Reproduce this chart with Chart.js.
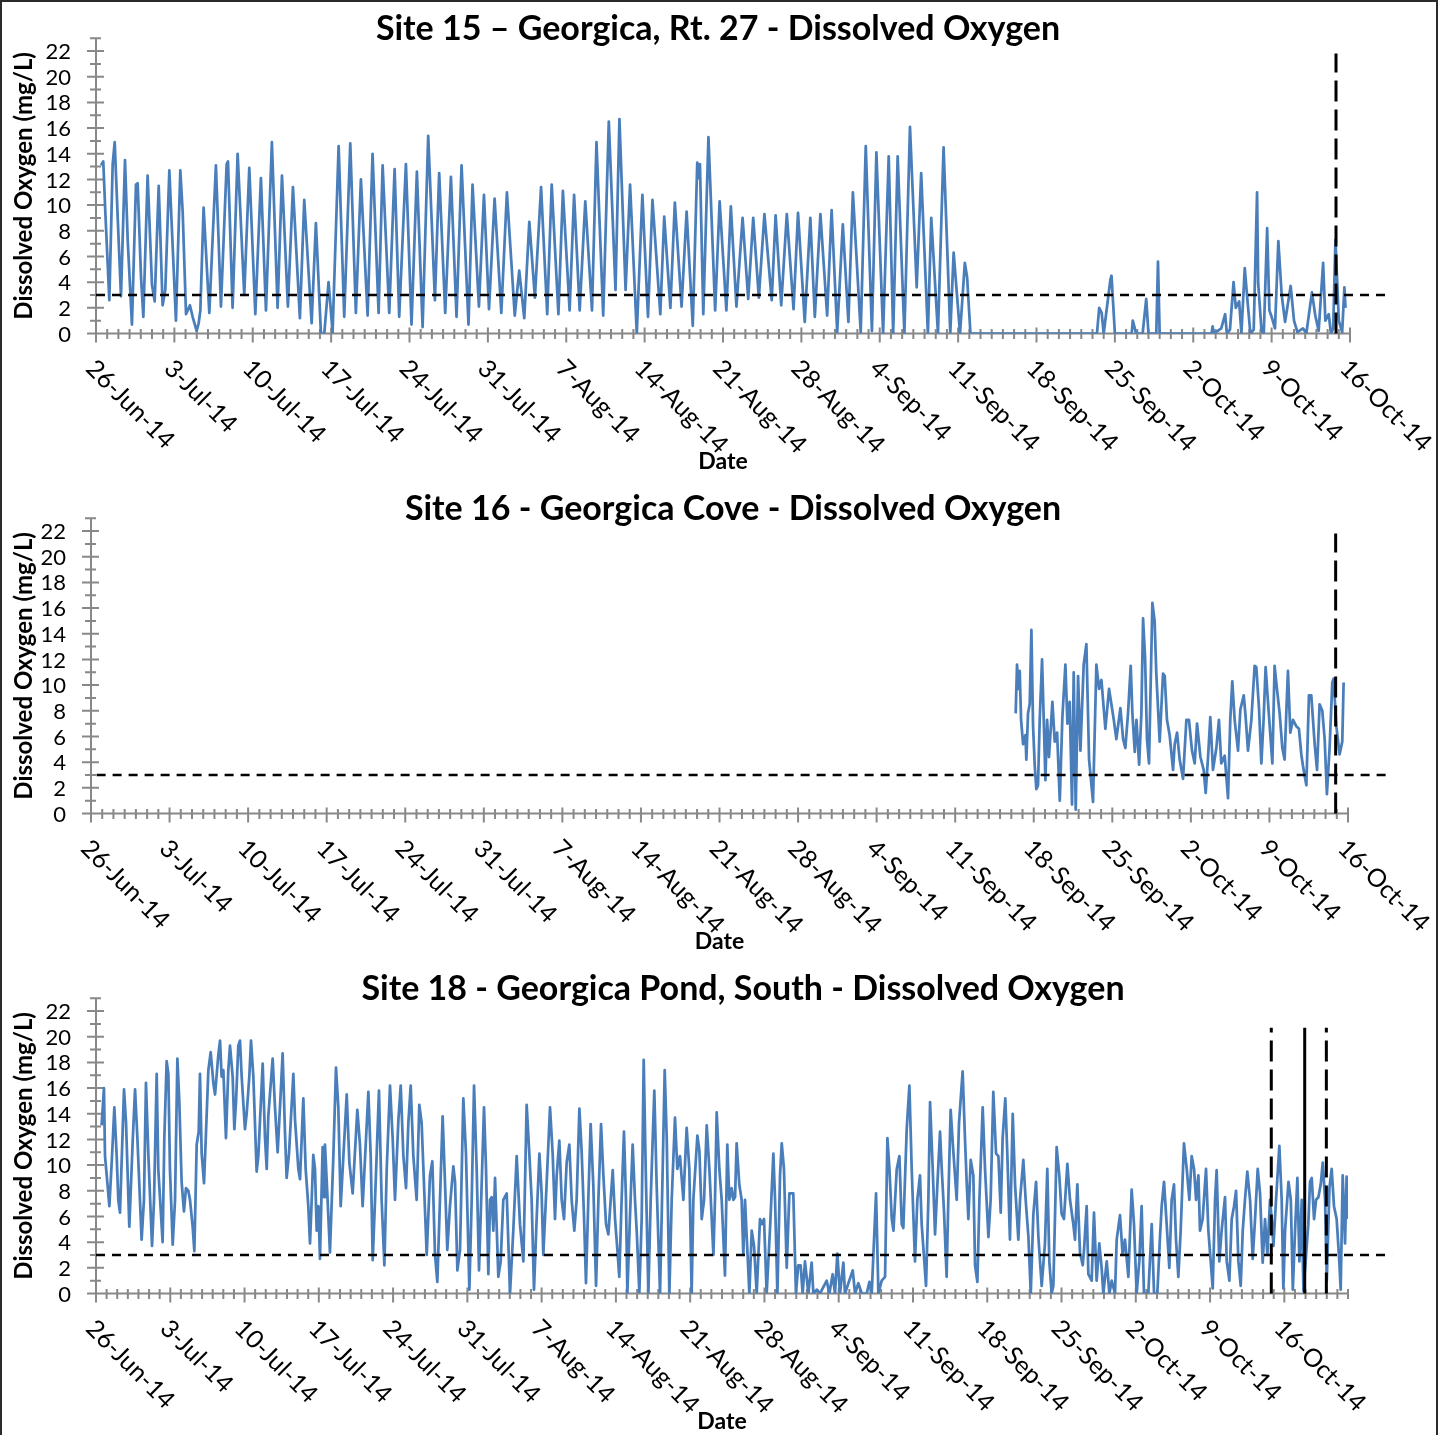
<!DOCTYPE html>
<html>
<head>
<meta charset="utf-8">
<title>Georgica Dissolved Oxygen</title>
<script src="https://cdn.jsdelivr.net/npm/chart.js@4.4.1/dist/chart.umd.min.js"></script>
<style>
html,body{margin:0;padding:0;background:#fff;}
#page{position:relative;width:1440px;height:1435px;overflow:hidden;background:#fff;}
#page canvas{position:absolute;left:0;}
#frame{position:absolute;left:0;top:0;width:1438px;height:1460px;box-sizing:border-box;border:2px solid #2b2b2b;border-bottom:none;pointer-events:none;}
</style>
</head>
<body>
<div id="page">
<canvas id="c15" width="1440" height="480" style="top:0px"></canvas>
<canvas id="c16" width="1440" height="480" style="top:480px"></canvas>
<canvas id="c18" width="1440" height="480" style="top:960px"></canvas>
<div id="frame"></div>
</div>
<script>
// ---------------- DATA ----------------
const xTickLabels = ['26-Jun-14','3-Jul-14','10-Jul-14','17-Jul-14','24-Jul-14','31-Jul-14','7-Aug-14','14-Aug-14','21-Aug-14','28-Aug-14','4-Sep-14','11-Sep-14','18-Sep-14','25-Sep-14','2-Oct-14','9-Oct-14','16-Oct-14'];
const panelTitles = ['Site 15 \u2013 Georgica, Rt. 27 - Dissolved Oxygen','Site 16 - Georgica Cove - Dissolved Oxygen','Site 18 - Georgica Pond, South - Dissolved Oxygen'];
const yAxisTitle = 'Dissolved Oxygen (mg/L)';
const xAxisTitle = 'Date';

// days since 26-Jun-14 00:00
const site15Day = [0.45,0.65,0.83,1.19,1.49,1.67,1.93,2.23,2.59,2.83,3.21,3.57,3.72,4.02,4.23,4.61,5.0,5.24,5.6,5.95,6.19,6.55,7.14,7.53,7.74,8.04,8.39,8.63,8.99,9.17,9.32,9.61,10.12,10.71,11.16,11.67,11.79,12.2,12.65,13.24,13.69,14.23,14.73,15.18,15.71,16.22,16.61,17.14,17.59,18.21,18.6,19.26,19.64,20.09,20.39,20.77,21.13,21.67,22.17,22.71,23.21,23.66,24.26,24.7,25.24,25.6,26.19,26.67,27.08,27.68,28.18,28.66,29.17,29.67,30.27,30.65,31.19,31.7,32.2,32.65,33.27,33.63,34.2,
34.65,35.1,35.6,36.2,36.7,37.4,37.8,38.25,38.7,39.2,39.75,40.3,40.7,41.3,41.7,42.3,42.7,43.2,43.7,44.3,44.7,45.3,45.8,46.4,46.75,47.3,47.7,48.3,48.8,49.3,49.7,50.4,50.75,51.3,51.7,52.3,52.75,53.3,53.7,53.82,53.94,54.24,54.7,55.3,55.7,56.3,56.7,57.2,57.75,58.25,58.7,59.2,59.7,60.35,60.7,61.2,61.7,62.3,62.7,63.3,63.8,64.2,64.7,65.3,65.7,66.2,66.7,67.2,67.6,68.3,68.75,69.3,69.7,70.3,70.8,71.2,71.6,72.2,72.7,73.3,73.7,74.3,74.6,75.2,75.7,76.3,76.6,
77.17,77.6,77.8,78.1,89.4,89.6,89.82,90.0,90.6,90.7,91.0,92.5,92.6,92.9,93.48,93.8,94.0,94.7,94.85,95.0,99.64,99.73,99.85,100.5,100.85,101.0,101.28,101.6,101.8,102.1,102.3,102.6,102.8,103.1,103.4,103.7,103.8,104.1,104.3,104.6,104.8,105.0,105.3,105.6,105.9,106.2,106.7,107.0,107.3,107.8,108.1,108.6,108.9,109.2,109.6,109.8,110.1,110.3,110.5,110.7,111.0,111.3,111.5,111.6];
const site15DO = [13.1,13.4,9.5,2.6,13.2,14.9,9.2,2.9,13.5,7.3,0.7,11.6,11.7,4.4,1.3,12.3,3.8,2.5,11.5,2.2,3.4,12.7,1.0,12.7,9.5,1.5,2.2,1.3,0.2,0.8,1.8,9.8,1.6,13.1,2.1,13.2,13.4,2.0,14.0,3.0,12.9,1.5,12.1,1.8,14.9,2.0,12.3,2.1,11.4,1.2,10.4,0.8,8.6,0,0,4.0,0.1,14.6,1.3,14.8,1.6,12.0,1.4,14.0,1.6,13.1,1.6,12.8,1.3,13.2,0.7,12.6,0.5,15.4,2.6,12.5,1.6,12.2,1.3,13.1,0.7,11.6,2.1,
10.8,1.9,10.5,1.6,11.0,1.4,4.9,1.2,8.7,2.8,11.4,1.5,11.6,1.5,11.1,1.8,10.8,1.8,10.3,1.8,14.9,1.4,16.5,3.4,16.7,3.4,11.6,0,10.8,1.3,10.4,1.5,9.1,2.0,10.2,2.1,9.5,0.6,13.3,12.1,13.2,1.5,15.3,1.8,10.3,1.8,9.9,2.1,9.0,2.7,9.0,2.8,9.3,2.6,9.2,2.2,9.3,1.9,9.4,0.9,9.0,1.3,9.3,1.4,9.6,0.1,8.5,0.9,11.0,0.1,14.6,0.2,14.1,0,13.8,0,13.8,0,16.1,3.6,12.5,0,9.0,0,14.5,0.05,6.3,
0,5.5,4.4,0,0,2.0,1.6,0,4.2,4.5,0,0,1.0,0,0,2.7,0,0,5.6,0,0,0.55,0,0.4,1.5,0,0.3,4.0,2.0,2.5,0,5.1,3.0,0,0.3,11.0,3.9,0.2,0,8.2,1.8,1.3,0.4,7.2,3.0,0.9,3.7,1.0,0.1,0.4,0,3.2,1.4,0.2,5.5,1.0,1.5,0,0.4,7.3,1.0,0.1,3.6,2.0];

const site16Day = [82.39,82.51,82.63,82.75,82.87,83.05,83.26,83.34,83.49,83.64,83.79,83.94,84.09,84.23,84.38,84.53,84.74,84.89,85.04,85.19,85.36,85.66,85.87,86.08,86.32,86.55,86.82,87.0,87.2,87.41,87.56,87.74,87.95,88.16,88.45,88.69,88.93,89.28,89.58,89.82,90.03,90.38,90.71,91.13,91.36,91.72,91.96,92.16,92.4,92.64,92.79,93.0,93.15,93.39,93.59,93.74,93.92,94.09,94.27,94.57,94.77,94.92,95.22,95.52,95.67,95.87,96.11,96.41,96.56,96.77,97.0,97.3,97.6,97.83,98.1,98.34,98.55,98.85,99.14,99.32,99.53,99.73,99.97,100.27,100.5,100.71,101.01,101.31,101.51,101.69,101.9,102.2,102.41,102.71,102.88,103.09,103.39,103.68,103.83,104.07,104.28,104.48,104.66,104.87,105.26,105.46,105.67,105.91,106.15,106.35,106.5,106.65,106.86,107.1,107.39,107.63,107.84,107.99,108.29,108.52,108.73,109.03,109.24,109.47,109.71,109.92,110.12,110.36,110.6,110.72,110.96,111.25,111.49,111.61];
const site16DO = [7.8,11.6,9.7,11.1,7.3,5.4,6.1,4.2,7.8,8.5,14.3,6.8,3.7,1.9,2.2,7.3,12.0,7.3,2.6,7.3,4.4,8.7,5.6,6.3,1.0,7.5,11.6,7.0,8.7,0.7,11.0,0.3,10.7,4.9,11.6,13.2,4.2,0.9,11.6,9.7,10.4,6.6,9.7,7.3,5.8,8.2,5.8,5.1,7.8,11.5,7.8,4.8,7.3,3.8,7.8,15.2,12.1,5.8,3.9,16.4,15.0,10.9,5.6,10.9,10.7,7.3,6.1,3.4,5.4,6.3,4.2,2.7,7.3,7.3,4.9,3.9,7.0,4.4,3.4,1.6,4.4,7.5,3.4,5.1,7.3,3.9,4.5,1.2,7.3,10.3,7.3,4.9,8.1,9.2,7.5,4.9,7.3,11.5,11.4,8.2,3.9,7.3,11.4,8.7,3.9,11.5,9.7,7.8,5.1,4.2,7.8,11.1,6.3,7.3,6.8,6.6,4.6,3.7,2.2,9.2,9.2,5.4,3.4,8.5,8.0,5.8,1.5,5.1,10.2,10.5,6.8,4.6,5.6,10.2];

const site18Day = [0.53,0.75,0.85,1.01,1.26,1.48,1.73,1.95,2.10,2.26,2.64,2.83,3.14,3.46,3.68,3.90,4.30,4.52,4.71,4.93,5.28,5.47,5.72,5.87,6.28,6.44,6.66,6.82,6.97,7.23,7.45,7.67,7.85,8.07,8.29,8.48,8.70,8.86,9.11,9.27,9.49,9.68,9.80,9.96,10.18,10.37,10.59,10.81,11.06,11.22,11.53,11.69,11.84,12.0,12.25,12.47,12.63,12.88,13.04,13.20,13.41,13.57,13.73,14.04,14.20,14.45,14.61,14.83,15.14,15.30,15.71,15.93,16.09,16.24,16.65,16.87,17.12,17.34,17.59,17.81,17.97,18.19,18.60,18.76,19.07,19.23,19.54,19.76,20.01,20.17,20.33,20.48,20.64,20.80,20.96,21.11,21.36,21.49,21.58,21.80,22.05,22.37,22.62,22.84,23.06,23.63,23.88,24.19,24.63,24.88,25.13,25.67,25.89,26.08,26.30,26.67,26.92,27.18,27.40,27.71,27.96,28.18,28.50,28.72,28.97,29.22,29.44,29.66,29.91,30.22,30.47,30.69,31.17,31.48,31.70,31.95,32.17,32.42,32.67,32.89,33.11,33.36,33.68,33.84,34.06,34.31,34.62,34.87,35.19,35.41,35.63,35.88,36.10,
36.57,36.76,36.98,37.14,37.29,37.45,37.61,37.92,38.14,38.39,38.71,39.02,39.33,39.65,39.96,40.28,40.59,40.84,41.06,41.28,41.53,41.79,42.0,42.16,42.48,42.79,43.04,43.26,43.42,43.67,43.89,44.11,44.36,44.61,44.83,45.08,45.30,45.56,45.77,45.99,46.18,46.40,46.62,46.87,47.13,47.35,47.60,47.82,48.07,48.29,48.70,48.92,49.14,49.32,49.54,49.76,49.95,50.08,50.33,50.58,50.80,50.96,51.21,51.43,51.62,51.81,52.06,52.28,52.62,52.84,53.16,53.41,53.60,53.79,54.04,54.26,54.57,54.79,55.04,55.36,55.67,55.92,56.14,56.30,56.68,56.87,57.09,57.31,57.56,57.81,58.19,58.34,58.50,58.75,58.97,59.28,59.50,59.69,59.91,60.07,60.23,60.38,60.63,60.85,61.01,61.17,61.33,61.58,61.80,62.02,62.27,62.58,62.74,62.96,63.21,63.53,63.84,64.0,64.22,64.47,64.63,64.84,65.10,65.35,65.72,65.97,66.19,66.41,66.60,66.82,67.14,67.45,67.61,67.93,68.24,68.87,69.12,69.43,69.65,69.87,70.12,70.44,70.59,71.32,71.54,71.85,72.17,72.64,72.89,73.11,73.52,73.74,74.05,74.37,74.59,74.78,75.0,75.16,75.47,75.72,75.94,76.09,76.41,76.66,76.88,77.19,77.41,77.66,77.82,78.23,78.45,78.61,78.86,79.08,79.30,79.55,79.71,79.93,80.17,80.33,80.55,80.80,81.12,81.34,
81.68,81.90,82.06,82.22,82.44,82.69,82.85,83.07,83.26,83.57,83.79,84.11,84.32,84.57,84.83,85.05,85.27,85.45,85.70,85.89,86.14,86.40,86.62,86.93,87.09,87.40,87.62,87.88,88.10,88.34,88.60,88.82,89.13,89.44,89.66,89.85,90.07,90.23,90.54,90.79,91.01,91.23,91.55,91.80,92.11,92.27,92.49,92.74,93.0,93.12,93.37,93.53,93.84,94.06,94.31,94.56,94.78,94.94,95.26,95.51,95.73,96.04,96.20,96.51,96.76,96.98,97.30,97.61,97.83,98.08,98.33,98.55,98.77,99.18,99.50,99.72,100.03,100.28,100.44,100.66,100.91,101.16,101.38,101.60,101.79,102.01,102.23,102.54,102.80,103.05,103.27,103.49,103.68,103.90,104.05,104.30,104.62,104.84,105.06,105.25,105.47,105.62,105.87,106.09,106.41,106.57,106.82,107.04,107.26,107.45,107.67,107.89,108.08,108.29,108.51,108.77,109.02,109.24,109.49,109.71,109.96,110.18,110.40,110.65,110.81,110.97,111.22,111.53,111.75,111.91,112.07,112.39,112.61,112.80,113.01,113.23,113.42,113.64,113.80,114.05,114.26,114.42,114.58,114.80,114.99,115.21,115.43,115.62,115.84,116.0,116.25,116.46,116.68,116.93,117.18,117.31,117.50,117.72,117.87,117.97];
const site18DO = [13.1,16.0,10.7,9.2,6.8,10.2,14.5,10.7,7.3,6.3,15.9,13.3,5.2,11.9,15.9,12.1,4.2,7.3,16.4,10.9,3.7,7.3,17.1,9.7,4.0,12.1,18.1,17.1,9.7,3.8,7.3,18.3,15.0,8.7,6.4,8.2,8.0,7.3,5.2,3.3,11.6,12.6,17.1,10.9,8.6,12.6,17.4,18.8,16.4,15.5,18.6,19.7,16.9,17.4,12.1,17.4,19.3,16.9,12.8,15.0,19.3,19.7,16.9,12.8,14.0,16.9,19.7,16.9,9.5,10.7,17.9,12.1,9.7,13.8,18.3,14.5,11.0,14.5,18.7,12.6,9.0,10.9,17.1,13.5,9.7,8.9,15.2,9.7,6.8,3.9,7.3,10.8,9.7,4.9,6.8,2.7,11.4,7.5,11.6,7.8,3.2,10.7,17.6,14.5,6.8,15.5,10.2,7.8,14.3,11.6,6.8,15.7,10.7,2.6,7.3,15.8,7.3,2.2,9.7,16.2,12.1,7.3,13.5,16.2,10.7,8.2,13.3,16.2,10.7,7.3,14.7,13.3,3.0,9.2,10.3,3.0,0.9,7.3,13.8,8.7,3.4,6.8,9.9,8.7,1.8,3.4,15.2,10.9,0.3,7.3,16.2,9.7,1.8,
14.5,9.7,1.5,7.3,7.5,4.9,9.0,1.3,2.5,7.3,7.8,0,4.9,10.7,5.4,2.5,14.7,10.9,7.3,0.3,5.8,10.9,7.8,3.0,8.7,14.5,10.9,5.8,9.2,11.9,7.3,5.8,10.2,11.6,7.3,4.9,7.3,14.4,11.1,6.1,0.8,7.3,13.2,8.5,0.6,7.3,13.2,9.2,5.4,4.6,9.6,5.8,3.4,1.3,7.3,12.6,7.3,0,6.1,11.6,7.3,4.9,0.1,5.8,18.2,9.7,0,7.3,15.8,8.5,0,9.7,17.4,12.1,0,7.3,13.7,9.7,10.7,7.3,12.9,9.7,0,7.3,12.3,11.1,5.8,7.3,13.1,9.7,3.0,7.3,14.1,9.7,7.3,1.4,11.6,7.3,8.2,7.3,7.5,11.7,8.5,7.3,3.0,7.3,4.4,0,4.9,3.7,0,5.8,5.4,5.8,0,5.1,10.9,7.3,0,9.2,11.7,9.7,2.0,7.8,7.8,0,2.2,2.2,0,2.5,0,2.4,0,0.3,0,1.0,0,1.5,0,3.1,0,2.4,0,1.8,0,0.8,0,0,0.9,0,7.8,0,1.0,1.3,12.1,9.7,5.8,4.9,9.7,10.7,5.4,5.1,12.8,16.2,9.7,2.5,7.3,9.2,5.4,0.6,7.3,14.9,9.7,4.6,8.5,12.6,9.7,6.3,1.3,7.3,14.3,11.1,7.3,13.3,
17.3,12.1,8.7,5.8,10.4,9.2,2.2,0.9,7.3,14.5,9.7,4.4,7.3,15.7,10.9,10.7,6.3,12.1,15.2,10.9,4.2,14.0,8.5,4.2,7.3,10.4,7.3,4.4,0,6.1,8.7,4.4,0.6,3.9,9.7,2.5,0,0.6,11.4,9.2,6.2,5.8,10.1,7.3,5.4,4.2,8.5,3.2,2.2,3.4,6.8,1.5,1.0,6.3,1.0,3.9,2.0,0,2.5,0,1.0,0,4.2,6.1,3.0,4.2,1.3,8.1,5.4,0,2.5,6.8,0,0,5.4,0,0,4.4,6.8,8.7,5.4,2.0,7.3,8.5,4.2,1.3,4.9,11.7,9.7,7.3,10.7,9.7,7.3,9.2,4.9,5.8,9.7,4.9,2.5,0.4,7.3,9.6,2.5,4.9,7.5,2.5,1.0,5.8,6.8,8.0,2.5,0.6,4.9,7.3,9.5,7.3,2.7,5.8,9.7,7.8,2.4,5.8,3.0,7.3,5.8,3.7,7.3,11.5,7.3,0.4,4.9,8.7,7.3,0.3,4.9,9.0,2.5,7.3,0.2,3.0,5.4,8.7,9.0,5.8,7.3,7.5,8.5,10.2,7.3,1.0,8.2,9.7,6.8,5.8,2.5,0.3,9.2,3.9,9.1,5.8];

// 3 mg/L dissolved oxygen standard (horizontal reference line)
const doStandard = 3;
const site15StandardDays = [0, 115.7];
const site16StandardDays = [0.5, 115.9];
const site18StandardDays = [0, 122.15];

// event markers (vertical lines)
const site15EventDays = [110.75];
const site15EventTop = 21.8;
const site16EventDays = [110.9];
const site16EventTop = 21.8;
const site18EventDays = [110.77, 113.92, 115.96];
const site18EventTop = 20.7;

// ---------------- DRAWING ----------------
const FONT = 'Lato';
const pts = (days, vals) => days.map((d, i) => ({x: d, y: vals[i]}));

const excelAxes = {
  id: 'excelAxes',
  beforeDatasetsDraw(chart) {
    const o = chart.options.plugins.excelAxes;
    const ctx = chart.ctx, xs = chart.scales.x, ys = chart.scales.y;
    const x0 = xs.getPixelForValue(0), x1 = xs.getPixelForValue(o.xMax);
    const y0 = ys.getPixelForValue(0), y1 = ys.getPixelForValue(23);
    ctx.save();
    ctx.strokeStyle = '#888888';
    ctx.lineWidth = 2;
    ctx.beginPath();
    ctx.moveTo(x0, y0); ctx.lineTo(x0, y1);
    for (let v = 0; v <= 23; v++) {
      const py = ys.getPixelForValue(v);
      const major = v % 2 === 0;
      ctx.moveTo(x0 - (major ? 9 : 6), py); ctx.lineTo(x0 + (major ? 8 : 5), py);
    }
    ctx.moveTo(x0, y0); ctx.lineTo(x1, y0);
    for (let d = 0; d <= o.xMax; d++) {
      const px = xs.getPixelForValue(d);
      const major = d % 7 === 0;
      ctx.moveTo(px, y0 - (major ? 6 : 4.5)); ctx.lineTo(px, y0 + (major ? 9 : 5.5));
    }
    ctx.stroke();
    ctx.restore();
  },
  afterDraw(chart) {
    const o = chart.options.plugins.excelAxes;
    const ctx = chart.ctx, xs = chart.scales.x, ys = chart.scales.y;
    const y0 = ys.getPixelForValue(0);
    ctx.save();
    ctx.fillStyle = '#000';
    ctx.font = '25px ' + FONT;
    ctx.textAlign = 'left';
    ctx.textBaseline = 'top';
    xTickLabels.forEach((lab, i) => {
      const px = xs.getPixelForValue(i * 7);
      ctx.save();
      ctx.translate(px + 3, y0 + 22);
      ctx.rotate(Math.PI / 4);
      ctx.fillText(lab, 0, 0);
      ctx.restore();
    });
    ctx.font = 'bold 34px ' + FONT;
    ctx.textAlign = 'center';
    ctx.textBaseline = 'middle';
    ctx.fillText(o.title, o.titleX, o.titleY);
    ctx.restore();
  }
};

function makePanel(id, p) {
  const datasets = [];
  p.eventDays.forEach((d, i) => {
    datasets.push({
      data: [{x: d, y: 0}, {x: d, y: p.eventTop}],
      borderColor: '#000', borderWidth: 3,
      borderDash: p.eventSolid && p.eventSolid[i] ? [] : [21, 8],
      pointRadius: 0, clip: false, order: 0
    });
  });
  datasets.push({
    data: p.standardDays.map(d => ({x: d, y: doStandard})),
    borderColor: '#000', borderWidth: 2.5, borderDash: [9, 7],
    pointRadius: 0, clip: false, order: 1
  });
  datasets.push({
    data: pts(p.days, p.values),
    borderColor: '#4A7EBB', borderWidth: 2.75, pointRadius: 0, tension: 0,
    borderJoinStyle: 'round', order: 2
  });
  return new Chart(document.getElementById(id), {
    type: 'line',
    data: {datasets},
    plugins: [excelAxes],
    options: {
      responsive: false, animation: false, events: [],
      layout: {padding: {left: 0, top: 15.5, right: 1440 - p.right, bottom: 0}},
      plugins: {
        legend: {display: false}, tooltip: {enabled: false}, title: {display: false},
        excelAxes: {xMax: p.xMax, title: p.title, titleX: p.titleX, titleY: 29}
      },
      scales: {
        x: {
          type: 'linear', min: 0, max: p.xMax,
          grid: {display: false, drawTicks: false}, border: {display: false},
          ticks: {display: false, stepSize: 7},
          title: {display: true, text: xAxisTitle, color: '#000', font: {family: FONT, weight: 'bold', size: 23}, padding: {top: 0, bottom: 5}},
          afterFit(s) { s.height = 480 - 333.5; }
        },
        y: {
          type: 'linear', min: 0, max: 23,
          grid: {display: false, drawTicks: false}, border: {display: false},
          ticks: {stepSize: 1, autoSkip: false, maxTicksLimit: 100, padding: 25, labelOffset: 1, color: '#000',
                  font: {family: FONT, size: 22},
                  callback: v => (v % 2 === 0 ? String(v) : '')},
          title: {display: true, text: yAxisTitle, color: '#000', font: {family: FONT, weight: 'bold', size: 24}, padding: {top: 10, bottom: 0}},
          afterFit(s) { s.width = p.left; }
        }
      }
    }
  });
}

makePanel('c15', {title: panelTitles[0], titleX: 718, left: 96, right: 1350, xMax: 112,
  days: site15Day, values: site15DO, standardDays: site15StandardDays,
  eventDays: site15EventDays, eventTop: site15EventTop});
makePanel('c16', {title: panelTitles[1], titleX: 733, left: 91, right: 1348, xMax: 112,
  days: site16Day, values: site16DO, standardDays: site16StandardDays,
  eventDays: site16EventDays, eventTop: site16EventTop});
makePanel('c18', {title: panelTitles[2], titleX: 743, left: 96, right: 1348, xMax: 118,
  days: site18Day, values: site18DO, standardDays: site18StandardDays,
  eventDays: site18EventDays, eventTop: site18EventTop, eventSolid: [false, true, false]});
</script>
</body>
</html>
